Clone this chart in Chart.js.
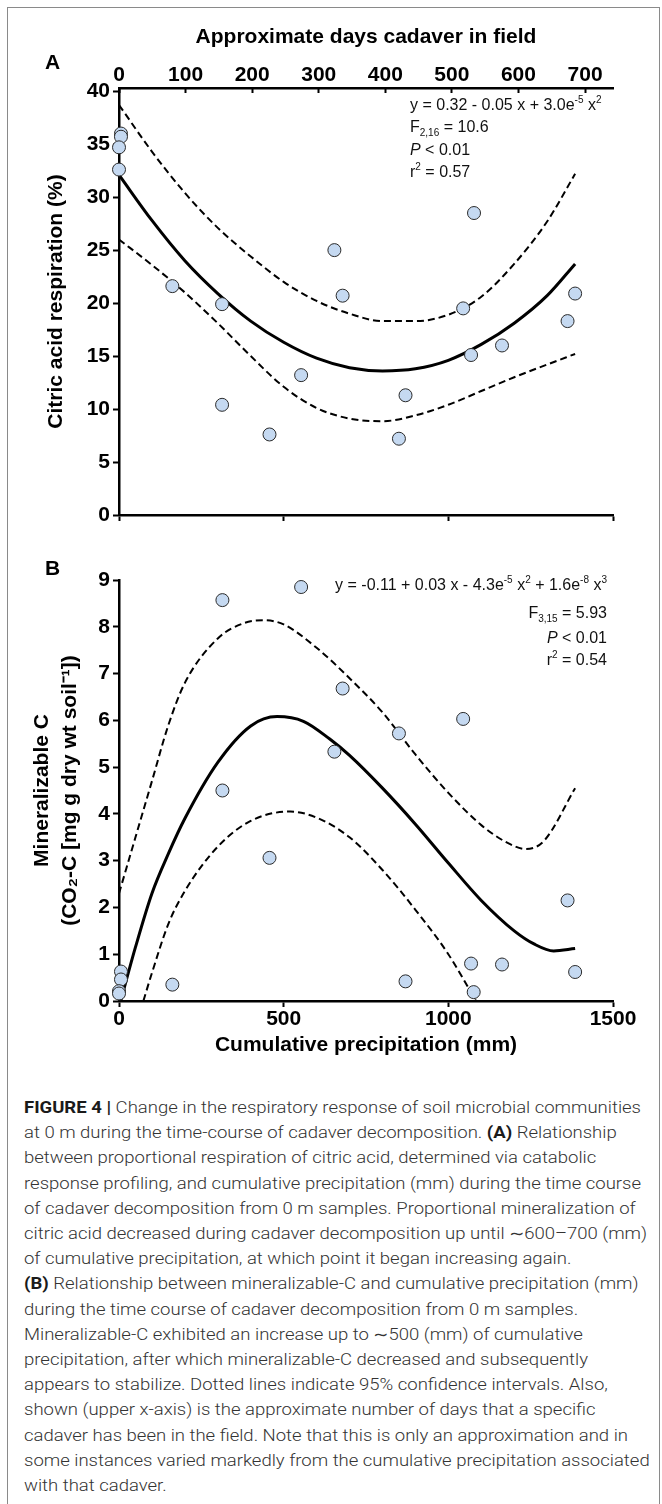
<!DOCTYPE html>
<html>
<head>
<meta charset="utf-8">
<script src="https://cdn.jsdelivr.net/npm/chart.js@4.4.1/dist/chart.umd.min.js"></script>
<style>
html, body { margin: 0; padding: 0; background: #fff; }
body { width: 662px; height: 1504px; position: relative; overflow: hidden; font-family: "Liberation Sans", Arial, sans-serif; }
#frame { position: absolute; left: 7px; top: 7px; width: 651px; height: 1520px; border: 1px solid #8a8a8a; border-bottom: none; }
canvas { position: absolute; left: 0; }
#chartA { top: 0; }
#chartB { top: 540px; }
.lbl { position: absolute; font-weight: bold; font-size: 21px; line-height: 22px; color: #000; }
.eq { position: absolute; font-size: 16px; line-height: 22px; color: #111; white-space: nowrap; }
.eq.r { text-align: right; }
.eq sup { font-size: 10px; vertical-align: 7px; line-height: 0; }
.eq sub { font-size: 10px; vertical-align: -4px; line-height: 0; }
#caption { position: absolute; left: 24px; top: 1095px; font-size: 16px; line-height: 25.2px; color: #333; white-space: nowrap; font-family: Roboto, "Liberation Sans", sans-serif; font-weight: 300; transform-origin: 0 0; }
#caption b { color: #1a1a1a; font-weight: bold; }
</style>
</head>
<body>
<div id="frame"></div>
<canvas id="chartA" width="662" height="540"></canvas>
<canvas id="chartB" width="662" height="530"></canvas>

<div class="lbl" style="left:45px; top:51px;">A</div>
<div class="lbl" style="left:45px; top:557px;">B</div>

<div class="eq" style="left:410px; top:94px;">y = 0.32 - 0.05 x + 3.0e<sup>-5</sup> x<sup>2</sup></div>
<div class="eq" style="left:410px; top:116px;">F<sub>2,16</sub> = 10.6</div>
<div class="eq" style="left:410px; top:139px;"><i>P</i> &lt; 0.01</div>
<div class="eq" style="left:410px; top:161px;">r<sup>2</sup> = 0.57</div>

<div class="eq r" style="right:55px; top:574px;">y = -0.11 + 0.03 x - 4.3e<sup>-5</sup> x<sup>2</sup> + 1.6e<sup>-8</sup> x<sup>3</sup></div>
<div class="eq r" style="right:55px; top:602px;">F<sub>3,15</sub> = 5.93</div>
<div class="eq r" style="right:55px; top:627px;"><i>P</i> &lt; 0.01</div>
<div class="eq r" style="right:55px; top:649px;">r<sup>2</sup> = 0.54</div>

<div id="caption">
<b>FIGURE 4 |</b> Change in the respiratory response of soil microbial communities<br>
at 0 m during the time-course of cadaver decomposition. <b>(A)</b> Relationship<br>
between proportional respiration of citric acid, determined via catabolic<br>
response profiling, and cumulative precipitation (mm) during the time course<br>
of cadaver decomposition from 0 m samples. Proportional mineralization of<br>
citric acid decreased during cadaver decomposition up until ∼600–700 (mm)<br>
of cumulative precipitation, at which point it began increasing again.<br>
<b>(B)</b> Relationship between mineralizable-C and cumulative precipitation (mm)<br>
during the time course of cadaver decomposition from 0 m samples.<br>
Mineralizable-C exhibited an increase up to ∼500 (mm) of cumulative<br>
precipitation, after which mineralizable-C decreased and subsequently<br>
appears to stabilize. Dotted lines indicate 95% confidence intervals. Also,<br>
shown (upper x-axis) is the approximate number of days that a specific<br>
cadaver has been in the field. Note that this is only an approximation and in<br>
some instances varied markedly from the cumulative precipitation associated<br>
with that cadaver.
</div>

<script>
// ---- panel A: citric acid respiration vs cumulative precipitation ----
const precipA = [6, 6, 0, 0, 162, 313, 313, 457, 553, 654, 679, 1045, 1078, 1069, 1163, 1362, 1385, 870, 850];
const citricA = [36.0, 35.7, 34.7, 32.6, 21.6, 19.9, 10.4, 7.6, 13.2, 25.0, 20.7, 19.5, 28.5, 15.1, 16.0, 18.3, 20.9, 11.3, 7.2];

const fitXA = [0, 100, 200, 300, 400, 500, 600, 700, 800, 900, 1000, 1100, 1200, 1300, 1385];
const fitA = [32.1, 27.8, 24.0, 20.9, 18.3, 16.3, 14.8, 13.9, 13.6, 13.8, 14.6, 16.1, 18.1, 20.7, 23.7];
const upperA = [38.7, 34.3, 30.4, 27.1, 24.4, 22.0, 20.2, 19.0, 18.3, 18.3, 18.9, 20.6, 23.7, 27.7, 32.2];
const lowerA = [26.0, 23.6, 21.0, 18.1, 15.0, 12.1, 10.1, 9.1, 8.85, 9.4, 10.4, 11.7, 13.0, 14.2, 15.2];

// ---- panel B: mineralizable C vs cumulative precipitation ----
const precipB = [314, 553, 679, 654, 314, 457, 162, 6, 6, 0, 0, 1045, 850, 1362, 1069, 1163, 1385, 870, 1077];
const mineralB = [8.57, 8.85, 6.68, 5.33, 4.50, 3.06, 0.35, 0.63, 0.46, 0.21, 0.16, 6.03, 5.72, 2.15, 0.80, 0.78, 0.62, 0.42, 0.19];

const fitXB = [5, 50, 100, 150, 200, 300, 400, 480, 560, 640, 700, 800, 900, 1000, 1100, 1200, 1260, 1320, 1385];
const fitB = [0.0, 1.15, 2.3, 3.15, 3.9, 5.1, 5.88, 6.08, 5.98, 5.6, 5.25, 4.55, 3.78, 2.95, 2.15, 1.5, 1.22, 1.07, 1.12];
const upperXB = [0, 50, 100, 150, 200, 300, 380, 440, 500, 600, 700, 800, 900, 1000, 1100, 1180, 1235, 1290, 1385];
const upperB = [2.3, 3.5, 4.7, 5.9, 6.8, 7.75, 8.08, 8.14, 8.05, 7.55, 6.9, 6.17, 5.27, 4.45, 3.76, 3.38, 3.25, 3.42, 4.55];
const lowerXB = [74, 100, 150, 200, 300, 400, 520, 600, 700, 800, 900, 1000, 1084];
const lowerB = [0, 0.6, 1.65, 2.35, 3.3, 3.85, 4.05, 3.92, 3.5, 2.8, 1.95, 1.0, 0];

// ---- tick labels ----
const precipTicks = [0, 500, 1000, 1500];
const daysTicks = [0, 100, 200, 300, 400, 500, 600, 700];
const citricTicks = [0, 5, 10, 15, 20, 25, 30, 35, 40];
const mineralTicks = [0, 1, 2, 3, 4, 5, 6, 7, 8, 9];

const FONT = '"Liberation Sans", Arial, sans-serif';
const tickFont = { family: FONT, size: 21, weight: 'bold' };
const titleFont = { family: FONT, size: 21, weight: 'bold' };

const pairs = (xs, ys) => xs.map((x, i) => ({ x: x, y: ys[i] }));
const setTicks = arr => s => { s.ticks = arr.map(v => ({ value: v })); };
const plain = v => String(v);
const axisBorder = { color: '#000', width: 2.5 };
const axisGrid = { drawOnChartArea: false, color: '#000', tickLength: 6, tickWidth: 2 };

function pointsSet(xs, ys) {
    return {
        data: pairs(xs, ys),
        pointRadius: 6.5,
        pointBackgroundColor: '#c5d9f1',
        pointBorderColor: '#2a2a2a',
        pointBorderWidth: 1,
        showLine: false,
        clip: 10
    };
}

function lineSet(xs, ys, dashed) {
    return {
        data: pairs(xs, ys),
        showLine: true,
        pointRadius: 0,
        borderColor: '#000',
        borderWidth: dashed ? 2 : 3,
        borderDash: dashed ? [7, 4] : [],
        cubicInterpolationMode: 'monotone',
        fill: false
    };
}

const common = {
    responsive: false,
    animation: false,
    events: [],
    plugins: { legend: { display: false }, tooltip: { enabled: false } }
};

new Chart(document.getElementById('chartA'), {
    type: 'scatter',
    data: {
        datasets: [
            pointsSet(precipA, citricA),
            lineSet(fitXA, fitA, false),
            lineSet(fitXA, upperA, true),
            lineSet(fitXA, lowerA, true)
        ]
    },
    options: {
        ...common,
        layout: { padding: { left: 0, right: 49, top: 0, bottom: 0 } },
        scales: {
            x: {
                type: 'linear', position: 'bottom', min: 0, max: 1500,
                afterBuildTicks: setTicks(precipTicks),
                ticks: { color: '#fff', font: tickFont, callback: plain },
                grid: axisGrid, border: axisBorder,
                afterFit: s => { s.height = 25; }
            },
            x2: {
                type: 'linear', position: 'top', min: 0, max: 742,
                afterBuildTicks: setTicks(daysTicks),
                ticks: { color: '#000', font: tickFont, padding: 5, maxRotation: 0, autoSkip: false, callback: plain },
                grid: { drawOnChartArea: false, color: '#000', tickLength: -5, tickWidth: 2 },
                border: axisBorder,
                title: { display: true, text: 'Approximate days cadaver in field', color: '#000', font: titleFont, padding: { top: 25, bottom: 0 } },
                afterFit: s => { s.height = 88; }
            },
            y: {
                type: 'linear', min: 0, max: 40.3,
                afterBuildTicks: setTicks(citricTicks),
                ticks: { color: '#000', font: tickFont, padding: 3, callback: plain },
                grid: axisGrid, border: axisBorder,
                title: { display: true, text: 'Citric acid respiration (%)', color: '#000', font: titleFont, padding: { top: 44, bottom: 0 } },
                afterFit: s => { s.width = 119; }
            }
        }
    }
});

new Chart(document.getElementById('chartB'), {
    type: 'scatter',
    data: {
        datasets: [
            pointsSet(precipB, mineralB),
            lineSet(fitXB, fitB, false),
            lineSet(upperXB, upperB, true),
            lineSet(lowerXB, lowerB, true)
        ]
    },
    options: {
        ...common,
        layout: { padding: { left: 0, right: 49, top: 40, bottom: 0 } },
        scales: {
            x: {
                type: 'linear', position: 'bottom', min: 0, max: 1500,
                afterBuildTicks: setTicks(precipTicks),
                ticks: { color: '#000', font: tickFont, padding: 0, maxRotation: 0, autoSkip: false, callback: plain },
                grid: axisGrid, border: axisBorder,
                title: { display: true, text: 'Cumulative precipitation (mm)', color: '#000', font: titleFont, padding: { top: 0, bottom: 12 } },
                afterFit: s => { s.height = 69; }
            },
            y: {
                type: 'linear', min: 0, max: 9,
                afterBuildTicks: setTicks(mineralTicks),
                ticks: { color: '#000', font: tickFont, padding: 3, callback: plain },
                grid: axisGrid, border: axisBorder,
                title: {
                    display: true,
                    text: ['Mineralizable C', '(CO\u2082-C [mg g dry wt soil\u207B\u00B9])'],
                    color: '#000',
                    font: { family: FONT, size: 21, weight: 'bold', lineHeight: 1.333 },
                    padding: { top: 28, bottom: 0 }
                },
                afterFit: s => { s.width = 119; }
            }
        }
    }
});

// squeeze the caption so its first line spans the same width as the reference
const cap = document.getElementById('caption');
const probe = document.createElement('span');
probe.style.visibility = 'hidden';
probe.style.position = 'absolute';
probe.innerHTML = '<b>FIGURE 4 |</b> Change in the respiratory response of soil microbial communities';
cap.appendChild(probe);
const k = 617 / probe.getBoundingClientRect().width;
cap.removeChild(probe);
cap.style.transform = 'scaleX(' + k.toFixed(4) + ')';
</script>
</body>
</html>
